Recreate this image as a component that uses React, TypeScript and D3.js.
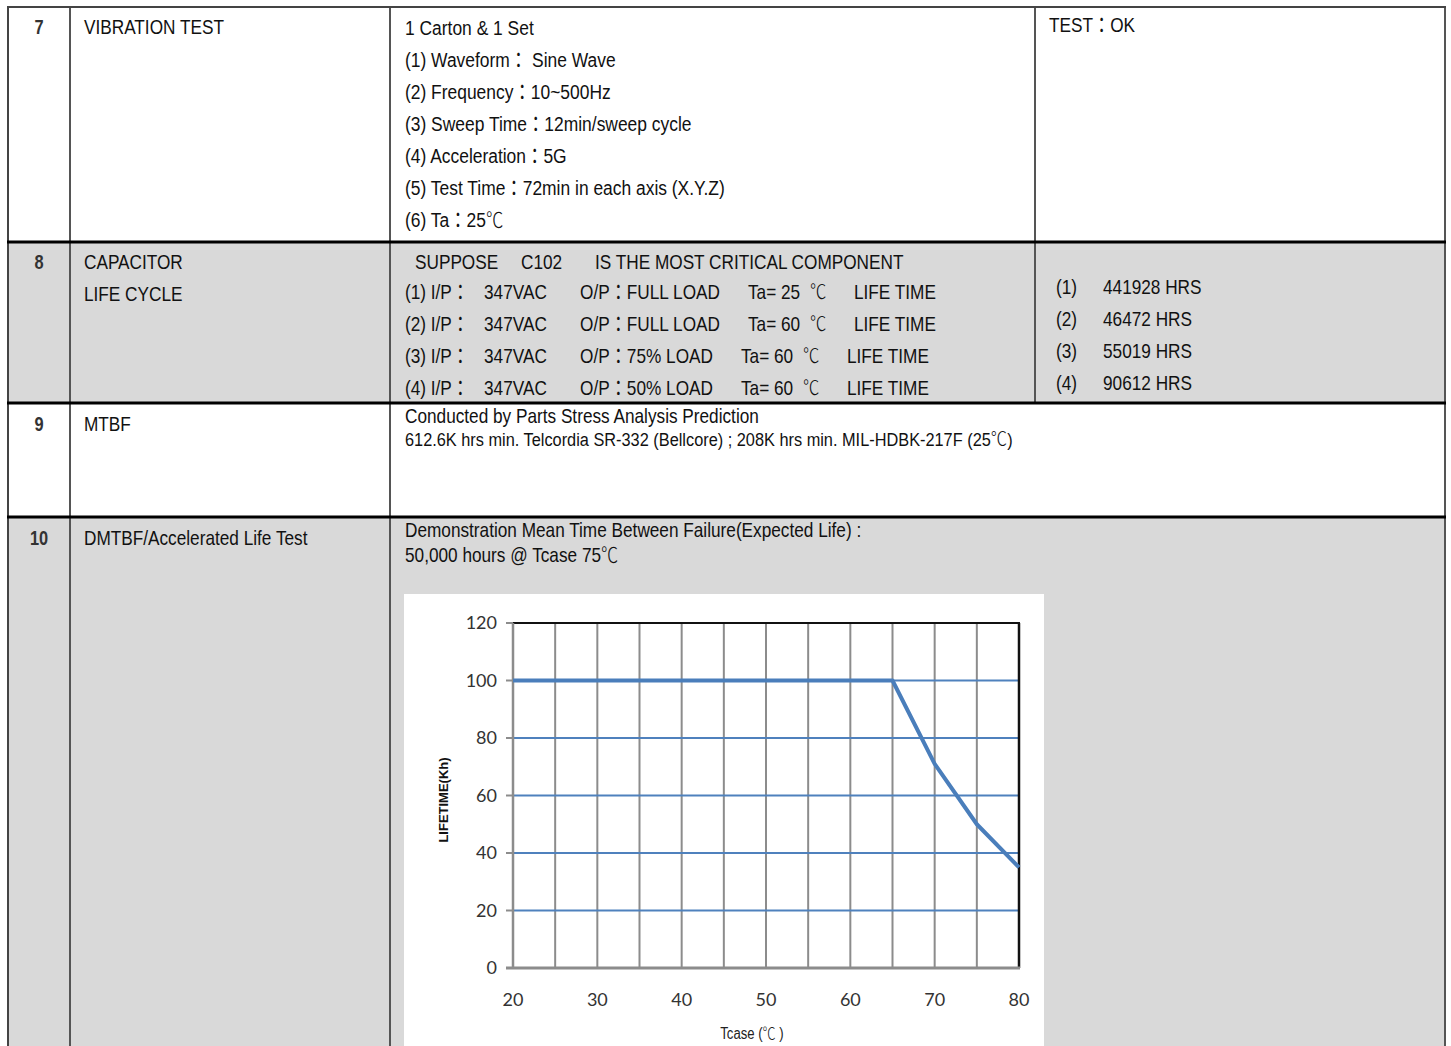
import React from "react";
import * as d3 from "d3";

// ---- chart data ----
const tcase = [20, 65, 70, 75, 80];
const lifetime = [100, 100, 71, 50, 35];
const xTicks = [20, 30, 40, 50, 60, 70, 80];
const yTicks = [0, 20, 40, 60, 80, 100, 120];
const xGrid = [20, 25, 30, 35, 40, 45, 50, 55, 60, 65, 70, 75, 80];

// ---- table text ----
const rowNumbers = ["7", "8", "9", "10"];
const rowTitles = [["VIBRATION TEST"], ["CAPACITOR", "LIFE CYCLE"], ["MTBF"], ["DMTBF/Accelerated Life Test"]];
const vibrationLines = [
  "1 Carton & 1 Set",
  "(1) Waveform：  Sine Wave",
  "(2) Frequency：10~500Hz",
  "(3) Sweep Time：12min/sweep cycle",
  "(4) Acceleration：5G",
  "(5) Test Time：72min in each axis (X.Y.Z)",
  "(6) Ta：25℃",
];
const vibrationResult = "TEST：OK";
const capHeader = ["SUPPOSE", "C102", "IS THE MOST CRITICAL COMPONENT"];
const capIdx = ["(1) I/P：", "(2) I/P：", "(3) I/P：", "(4) I/P："];
const capInput = ["347VAC", "347VAC", "347VAC", "347VAC"];
const capLoad = ["O/P：FULL LOAD", "O/P：FULL LOAD", "O/P：75% LOAD", "O/P：50% LOAD"];
const capTa = ["Ta= 25", "Ta= 60", "Ta= 60", "Ta= 60"];
const capResIdx = ["(1)", "(2)", "(3)", "(4)"];
const capResults = ["441928 HRS", "46472 HRS", "55019 HRS", "90612 HRS"];
const mtbfLines = [
  "Conducted by Parts Stress Analysis Prediction",
  "612.6K hrs min. Telcordia SR-332 (Bellcore) ; 208K hrs min. MIL-HDBK-217F (25℃)",
];
const dmtbfLines = ["Demonstration Mean Time Between Failure(Expected Life) :", "50,000 hours @ Tcase 75℃"];

const SANS = "'Liberation Sans', Arial, 'Noto Sans CJK TC', sans-serif";
const CJK = "'Noto Sans CJK TC', sans-serif";
const CHARTF = "Lato, 'Open Sans', sans-serif";
const SX = 0.82;

// split a string so that ℃ is drawn in a light CJK face
function parts(s: string) {
  const out: React.ReactNode[] = [];
  s.split(/(℃)/).forEach((p, i) => {
    if (!p) return;
    if (p === "℃")
      out.push(
        <tspan key={i} fontFamily={CJK} fontWeight={300}>
          {p}
        </tspan>
      );
    else out.push(<tspan key={i}>{p}</tspan>);
  });
  return out;
}

export default function App() {
  const W = 1451;
  const H = 1046;
  const x = d3.scaleLinear().domain([20, 80]).range([513, 1019]);
  const y = d3.scaleLinear().domain([0, 120]).range([968, 623]);
  const line = d3
    .line<number>()
    .x((_, i) => x(tcase[i]))
    .y((d) => y(d));

  const L = 8, C1 = 70, C2 = 390, C3 = 1035, R = 1445;
  const rowsY = [7, 242, 403, 517, 1060];
  const shaded = [false, true, false, true];
  const fs = 21;

  const t = (s: string, xx: number, yy: number, extra: any = {}) => {
    const { sx, ...rest } = extra;
    return (
      <text
        transform={`translate(${xx},${yy}) scale(${sx ?? SX},1)`}
        fontFamily={SANS}
        fontSize={fs}
        fill="#111"
        {...rest}
      >
        {parts(s)}
      </text>
    );
  };

  return (
    <svg width={W} height={H} style={{ position: "absolute", left: 0, top: 0, background: "#fff" }}>
      {/* row backgrounds */}
      {shaded.map((s, i) =>
        s ? <rect key={i} x={L} y={rowsY[i]} width={R - L} height={rowsY[i + 1] - rowsY[i]} fill="#d9d9d9" /> : null
      )}
      {/* vertical borders */}
      <line x1={L} x2={L} y1={rowsY[0]} y2={H} stroke="#444" strokeWidth={2} />
      <line x1={C1} x2={C1} y1={rowsY[0]} y2={H} stroke="#555" strokeWidth={2} />
      <line x1={C2} x2={C2} y1={rowsY[0]} y2={H} stroke="#555" strokeWidth={2} />
      <line x1={C3} x2={C3} y1={rowsY[0]} y2={rowsY[2]} stroke="#555" strokeWidth={2} />
      <line x1={R} x2={R} y1={rowsY[0]} y2={H} stroke="#555" strokeWidth={2} />
      {/* horizontal borders */}
      <line x1={L - 1} x2={R + 1} y1={rowsY[0]} y2={rowsY[0]} stroke="#444" strokeWidth={2} />
      {rowsY.slice(1, 4).map((ry, i) => (
        <line key={i} x1={L - 1} x2={R + 1} y1={ry} y2={ry} stroke="#000" strokeWidth={3} />
      ))}

      {/* row numbers */}
      {rowNumbers.map((n, i) => (
        <g key={n}>{t(n, 39, [34, 269, 431, 545][i], { textAnchor: "middle", fontWeight: "bold", fontSize: 20, fill: "#333" })}</g>
      ))}
      {/* row titles */}
      {rowTitles.map((lines, i) =>
        lines.map((s, j) => <g key={i + "-" + j}>{t(s, 84, [34, 269, 431, 545][i] + j * 32)}</g>)
      )}

      {/* row 7 */}
      {vibrationLines.map((s, i) => (
        <g key={"v" + i}>{t(s, 405, 35 + i * 32, { sx: 0.83 })}</g>
      ))}
      {t(vibrationResult, 1049, 32)}

      {/* row 8 */}
      {t(capHeader[0], 415, 269)}
      {t(capHeader[1], 521, 269)}
      {t(capHeader[2], 595, 269)}
      {capIdx.map((s, i) => {
        const by = 299 + i * 32;
        const shift = i >= 2 ? -7 : 0;
        return (
          <g key={"c" + i}>
            {t(s, 405, by)}
            {t(capInput[i], 484, by)}
            {t(capLoad[i], 580, by)}
            {t(capTa[i], 748 + shift, by)}
            {t("℃", 810 + shift, by, { fontSize: 20 })}
            {t("LIFE TIME", 854 + shift, by)}
          </g>
        );
      })}
      {capResIdx.map((s, i) => (
        <g key={"r" + i}>
          {t(s, 1056, 294 + i * 32)}
          {t(capResults[i], 1103, 294 + i * 32)}
        </g>
      ))}

      {/* row 9 */}
      {t(mtbfLines[0], 405, 423)}
      {t(mtbfLines[1], 405, 446, { fontSize: 19, sx: 0.86 })}

      {/* row 10 */}
      {t(dmtbfLines[0], 405, 537)}
      {t(dmtbfLines[1], 405, 562)}

      {/* chart box */}
      <rect x={404} y={594} width={640} height={H - 594} fill="#fff" />

      {/* vertical grid */}
      {xGrid.map((v) => (
        <line key={"gx" + v} x1={x(v)} x2={x(v)} y1={y(120)} y2={y(0)} stroke="#8c8c8c" strokeWidth={2} />
      ))}
      {/* horizontal grid */}
      {yTicks.filter((v) => v > 0 && v < 120).map((v) => (
        <line key={"gy" + v} x1={x(20)} x2={x(80)} y1={y(v)} y2={y(v)} stroke="#4f81bd" strokeWidth={2} />
      ))}
      {/* plot border top/right */}
      <line x1={x(20)} x2={x(80) + 1} y1={y(120)} y2={y(120)} stroke="#111" strokeWidth={2} />
      <line x1={x(80)} x2={x(80)} y1={y(120)} y2={y(0)} stroke="#111" strokeWidth={2.5} />
      {/* axes */}
      <line x1={x(20)} x2={x(20)} y1={y(120)} y2={y(0)} stroke="#8c8c8c" strokeWidth={2.5} />
      <line x1={506} x2={x(80) + 1} y1={y(0)} y2={y(0)} stroke="#8c8c8c" strokeWidth={3} />
      {yTicks.map((v) => (
        <line key={"ty" + v} x1={506} x2={x(20)} y1={y(v)} y2={y(v)} stroke="#8c8c8c" strokeWidth={2} />
      ))}

      {/* data line */}
      <path d={line(lifetime) || ""} fill="none" stroke="#4a7ebb" strokeWidth={4} strokeLinejoin="round" />

      {/* tick labels */}
      {yTicks.map((v) => (
        <text key={"ly" + v} x={497} y={y(v) + 6} textAnchor="end" fontFamily={CHARTF} fontSize={18} fill="#333">
          {v}
        </text>
      ))}
      {xTicks.map((v) => (
        <text key={"lx" + v} x={x(v)} y={1006} textAnchor="middle" fontFamily={CHARTF} fontSize={18} fill="#333">
          {v}
        </text>
      ))}
      <text
        transform={`translate(448,800) rotate(-90)`}
        textAnchor="middle"
        fontFamily="'Liberation Sans', Arial, sans-serif"
        fontWeight="bold"
        fontSize={13}
        fill="#111"
      >
        LIFETIME(Kh)
      </text>
      {t("Tcase (℃ )", 752, 1039, { textAnchor: "middle", fontSize: 16, fill: "#222" })}
    </svg>
  );
}
